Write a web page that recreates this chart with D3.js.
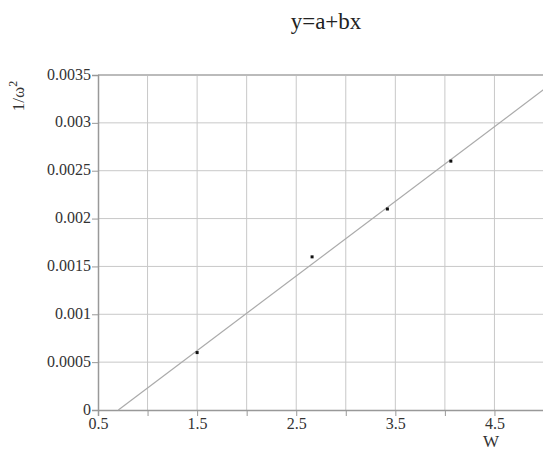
<!DOCTYPE html>
<html>
<head>
<meta charset="utf-8">
<script src="https://cdn.jsdelivr.net/npm/d3@7"></script>
</head>
<body style="margin:0">
<script>
let w = 543;
let h = 450;

// data
let xValues = [1.5, 2.66, 3.42, 4.06];
let yValues = [0.0006, 0.0016, 0.0021, 0.0026];
let fitA = -0.00055;   // intercept of the drawn line
let fitB = 0.00078;    // slope of the drawn line
let xTicks = [0.5, 1, 1.5, 2, 2.5, 3, 3.5, 4, 4.5, 5];
let xTickLabels = ["0.5", "1.5", "2.5", "3.5", "4.5"];
let yTicks = [0, 0.0005, 0.001, 0.0015, 0.002, 0.0025, 0.003, 0.0035];

let viz = d3.select("body")
  .append("svg")
    .attr("width", w)
    .attr("height", h)
;

function serifText(sel, size) {
  return sel.style("font-family", "'Liberation Serif'").attr("font-size", size);
}

let xScale = d3.scaleLinear().domain([0.5, 5]).range([98, 544]);
let yScale = d3.scaleLinear().domain([0, 0.0035]).range([410, 75]);

// grid
let grid = viz.append("g").attr("class", "grid");
grid.selectAll(".vgrid").data(xTicks.slice(1)).enter()
  .append("line")
    .attr("x1", d => xScale(d)).attr("x2", d => xScale(d))
    .attr("y1", yScale(0)).attr("y2", yScale(0.0035))
    .attr("stroke", "#c8c8c8").attr("stroke-width", 1)
;
grid.selectAll(".hgrid").data(yTicks.slice(1)).enter()
  .append("line")
    .attr("x1", xScale(0.5)).attr("x2", xScale(5))
    .attr("y1", d => yScale(d)).attr("y2", d => yScale(d))
    .attr("stroke", "#c8c8c8").attr("stroke-width", 1)
;
// top border
viz.append("line")
  .attr("x1", xScale(0.5)).attr("x2", w)
  .attr("y1", yScale(0.0035)).attr("y2", yScale(0.0035))
  .attr("stroke", "#bbb").attr("stroke-width", 2)
;

// x axis
let xAxis = d3.axisBottom(xScale)
  .tickValues(xTicks)
  .tickSize(6)
  .tickFormat(d => xTickLabels.indexOf(String(d)) >= 0 ? String(d) : "");
let xAxisGroup = viz.append("g").attr("class", "xaxis")
  .attr("transform", "translate(0," + yScale(0) + ")")
  .call(xAxis);

// y axis
let yAxis = d3.axisLeft(yScale)
  .tickValues(yTicks)
  .tickSize(6)
  .tickFormat(d => d === 0 ? "0" : String(+d.toFixed(4)));
let yAxisGroup = viz.append("g").attr("class", "yaxis")
  .attr("transform", "translate(" + xScale(0.5) + ",0)")
  .call(yAxis);

viz.selectAll(".xaxis, .yaxis").attr("font-family", null).attr("font-size", null);
viz.selectAll(".xaxis path, .yaxis path").attr("stroke", "#999").attr("stroke-width", 1.5);
viz.selectAll(".xaxis .tick line, .yaxis .tick line").attr("stroke", "#999");
serifText(viz.selectAll(".xaxis text, .yaxis text"), 16).attr("fill", "#333");
xAxisGroup.selectAll("text").attr("y", 7).attr("dy", "0.78em");
yAxisGroup.selectAll("text").attr("x", -7).attr("dy", "0.25em");

// fitted line
let lineX0 = -fitA / fitB;
let lineX1 = 5;
viz.append("line")
  .attr("x1", xScale(lineX0)).attr("y1", yScale(fitA + fitB * lineX0))
  .attr("x2", xScale(lineX1)).attr("y2", yScale(fitA + fitB * lineX1))
  .attr("stroke", "#aaa").attr("stroke-width", 1.2)
;

// points
viz.selectAll(".pt").data(xValues).enter()
  .append("rect")
    .attr("class", "pt")
    .attr("x", (d, i) => xScale(d) - 1.5)
    .attr("y", (d, i) => yScale(yValues[i]) - 1.5)
    .attr("width", 3).attr("height", 3)
    .attr("fill", "#111")
;

// title and labels
serifText(viz.append("text"), 23)
  .text("y=a+bx")
  .attr("x", 326).attr("y", 29)
  .attr("text-anchor", "middle")
  .attr("fill", "#222")
;
let yLab = serifText(viz.append("text"), 17)
  .attr("transform", "translate(24,96) rotate(-90)")
  .attr("text-anchor", "middle")
  .attr("fill", "#333")
;
yLab.append("tspan").text("1/ω");
yLab.append("tspan").text("2").attr("font-size", 12).attr("dy", -7);

serifText(viz.append("text"), 17)
  .text("W")
  .attr("x", 491).attr("y", 447)
  .attr("text-anchor", "middle")
  .attr("fill", "#333")
;
</script>
</body>
</html>
